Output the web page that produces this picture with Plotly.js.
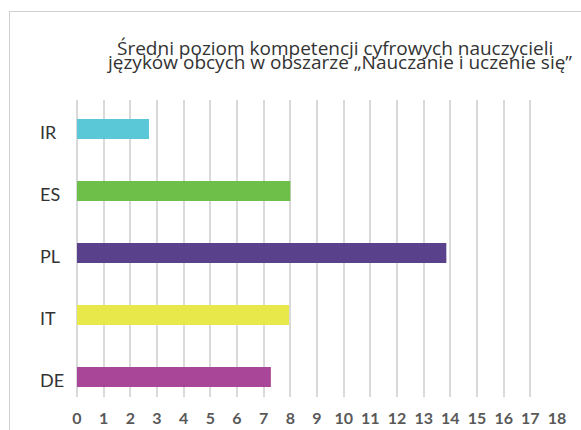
<!DOCTYPE html>
<html>
<head>
<meta charset="utf-8">
<script src="https://cdn.plot.ly/plotly-3.0.1.min.js"></script>
<style>
  html, body { margin: 0; padding: 0; background: #fff; overflow: hidden; }
  #wrap { position: relative; width: 581px; height: 430px; }
  #chart { position: absolute; left: 0; top: 0; width: 581px; height: 430px; }
  #frame { position: absolute; left: 9px; top: 11px; width: 640px; height: 480px;
           border: 1px solid #d0d0d0; box-sizing: border-box; pointer-events: none; }
</style>
</head>
<body>
<div id="wrap">
  <div id="chart"></div>
  <div id="frame"></div>
</div>
<script>
const categories = ['IR', 'ES', 'PL', 'IT', 'DE'];
const values = [2.7, 8.0, 13.85, 7.95, 7.27];
const barColors = ['#5bc8d8', '#6ebf4a', '#59418b', '#e9e84a', '#aa4698'];
const xTicks = [0,1,2,3,4,5,6,7,8,9,10,11,12,13,14,15,16,17,18];
const titleLine1 = 'Średni poziom kompetencji cyfrowych nauczycieli';
const titleLine2 = 'języków obcych w obszarze „Nauczanie i uczenie się”';

const trace = {
  type: 'bar',
  orientation: 'h',
  x: values,
  y: categories,
  marker: { color: barColors },
  width: 0.32,
  hoverinfo: 'none'
};

const catAnnotations = categories.map(c => ({
  xref: 'paper', yref: 'y',
  x: -0.081, y: c,
  xanchor: 'left', yanchor: 'middle',
  yshift: -3,
  text: c,
  showarrow: false,
  font: { family: 'Lato, sans-serif', size: 18, color: '#333333' }
}));

const layout = {
  width: 581, height: 430,
  margin: { l: 77, r: 24, t: 100, b: 33 },
  paper_bgcolor: '#ffffff',
  plot_bgcolor: '#ffffff',
  showlegend: false,
  xaxis: {
    range: [0, 18],
    tickvals: xTicks,
    ticktext: xTicks.map(String),
    showgrid: true,
    gridcolor: '#d9d9d9',
    gridwidth: 2,
    zeroline: true,
    zerolinecolor: '#d9d9d9',
    zerolinewidth: 2,
    showline: false,
    ticks: '',
    ticklabelstandoff: 10,
    tickfont: { family: 'Lato, sans-serif', size: 16, color: '#595959', weight: 'bold' },
    fixedrange: true
  },
  yaxis: {
    type: 'category',
    categoryorder: 'array',
    categoryarray: categories,
    range: [4.323, -0.468],
    showticklabels: false,
    showgrid: false,
    zeroline: false,
    showline: false,
    ticks: '',
    fixedrange: true
  },
  annotations: [
    {
      xref: 'paper', yref: 'paper',
      x: (335 - 77) / 480, y: 1,
      xanchor: 'center', yanchor: 'middle',
      yshift: 52,
      text: titleLine1,
      showarrow: false,
      font: { family: '"Open Sans", sans-serif', size: 19, color: '#333333' }
    },
    {
      xref: 'paper', yref: 'paper',
      x: (339 - 77) / 480, y: 1,
      xanchor: 'center', yanchor: 'middle',
      yshift: 38,
      text: titleLine2,
      showarrow: false,
      font: { family: '"Open Sans", sans-serif', size: 19, color: '#333333' }
    }
  ].concat(catAnnotations)
};

Plotly.newPlot('chart', [trace], layout, { displayModeBar: false, staticPlot: true });
</script>
</body>
</html>
